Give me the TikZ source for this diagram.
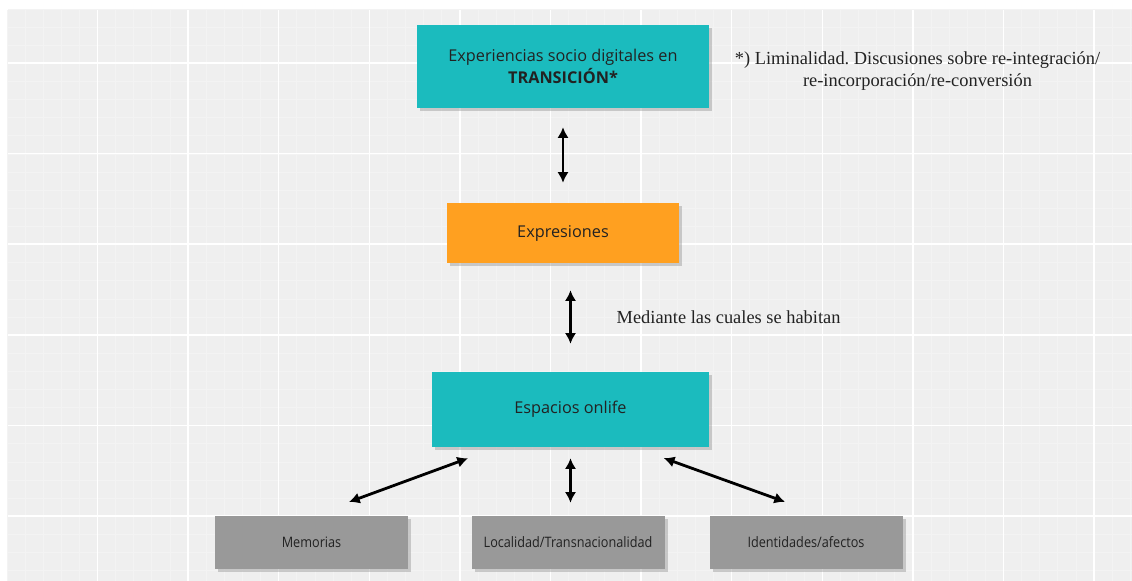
\documentclass[tikz,border=0pt]{standalone}
\usepackage{fontspec}
\setmainfont{Liberation Serif}
\newfontfamily\boxfont{Open Sans}
\newfontfamily\narrowfont[FakeStretch=0.88]{Open Sans}
\usetikzlibrary{calc, arrows.meta, shadows}
\definecolor{paperbg}{HTML}{EFEFEF}
\definecolor{gridminor}{HTML}{F3F3F3}
\definecolor{boxteal}{HTML}{1BBBBE}
\definecolor{boxorange}{HTML}{FFA020}
\definecolor{boxgray}{HTML}{999999}
\definecolor{inktext}{HTML}{222222}
\frenchspacing

\tikzset{
  boxbase/.style={inner sep=0pt, align=center, text=inktext,
    drop shadow={shadow xshift=2.5pt, shadow yshift=-2.5pt, fill=black!45, opacity=0.4}},
  tealbox/.style={boxbase, fill=boxteal, font=\boxfont\fontsize{12.2}{16.5}\selectfont},
  orangebox/.style={boxbase, fill=boxorange, font=\boxfont\fontsize{12.2}{16.5}\selectfont},
  graybox/.style={boxbase, fill=boxgray, minimum width=144.75pt, minimum height=39.75pt,
    font=\narrowfont\fontsize{10.8}{12}\selectfont},
  link/.style={<->, line width=2.1pt},
  note/.style={text=inktext, font=\fontsize{13.8}{16.5}\selectfont}
}

\begin{document}
\begin{tikzpicture}[x=0.75pt, y=-0.75pt, >={Latex[length=8pt,width=8.5pt]}]
    % 0. Canvas with grid
    \useasboundingbox (0,0) rectangle (1132,581);
    \fill[paperbg] (8,10) rectangle (1132,581);
    \foreach \i in {0,...,62}
        \draw[gridminor, line width=0.6pt] (6.9+18.12*\i,10) -- (6.9+18.12*\i,581);
    \foreach \i in {0,...,31}
        \draw[gridminor, line width=0.6pt] (8,9+18.12*\i) -- (1132,9+18.12*\i);
    \foreach \j in {1,...,12}
        \draw[white, line width=1.1pt] (6.9+90.6*\j,10) -- (6.9+90.6*\j,581);
    \foreach \j in {0,...,5}
        \draw[white, line width=1.1pt] (8,63+90.6*\j) -- (1132,63+90.6*\j);

    % 1. Boxes
    \node[tealbox, minimum width=219pt, minimum height=62.25pt] (trans) at (563,66.5)
        {Experiencias socio digitales en\\\textbf{TRANSICIÓN*}};
    \node[orangebox, minimum width=174pt, minimum height=45pt] (expr) at (563,233)
        {\raisebox{-1.5pt}{Expresiones}};
    \node[tealbox, minimum width=207.75pt, minimum height=56.25pt] (esp) at (570.5,409.5)
        {\raisebox{-1.5pt}{Espacios onlife}};

    \node[graybox] (mem) at (311.5,542.5) {Memorias};
    \node[graybox] (loc) at (568,542.5) {Localidad/Transnacionalidad};
    \node[graybox] (ide) at (806,542.5) {Identidades/afectos};

    % 2. Notes
    \node[note, align=center] (liminal) at (917.5,71)
        {*) Liminalidad. Discusiones sobre re-integración/\\re-incorporación/re-conversión};
    \node[note, anchor=west] (habitan) at (612,317) {Mediante las cuales se habitan};

    % 3. Arrows
    \draw[link, shorten <=14.25pt, shorten >=15pt] (trans) -- (expr);
    \draw[link, shorten <=20.25pt, shorten >=21pt] (expr.south -| esp.north) -- (esp.north);
    \draw[link, shorten <=8.25pt, shorten >=9.75pt] (esp.south) -- (esp.south |- loc.north);
    \draw[link, shorten <=30pt, shorten >=24pt] (mem.north) -- ($(esp.south)+(-72.5,0)$);
    \draw[link, shorten <=30.7pt, shorten >=24pt] ($(ide.north)+(17.5,0)$) -- ($(esp.south)+(63.25,0)$);

\end{tikzpicture}
\end{document}
